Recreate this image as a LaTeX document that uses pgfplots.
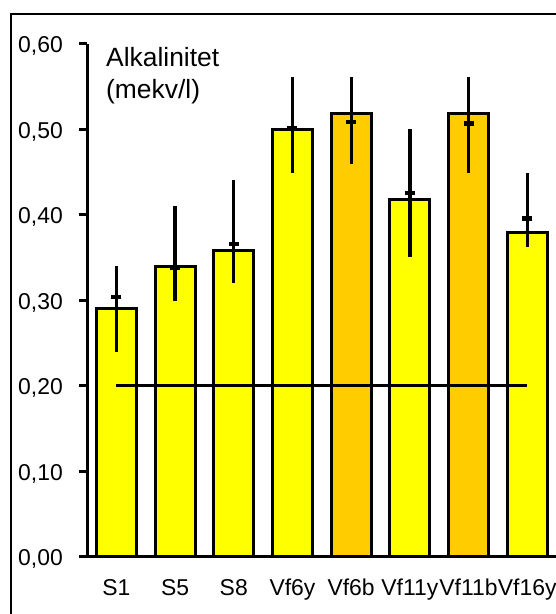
\documentclass[border=0pt]{standalone}
\usepackage{pgfplots}
\pgfplotsset{compat=1.18}
\usepackage{fontspec}
\setmainfont{Liberation Sans}
\definecolor{barY}{HTML}{FFFF00}
\definecolor{barO}{HTML}{FFCC00}
\begin{document}
\begin{tikzpicture}[x=1bp,y=1bp]
\useasboundingbox (0,0) rectangle (556,614);
\clip (0,0) rectangle (556,614);
\draw[line width=2bp] (11,-20) rectangle (600,600);
\begin{axis}[
  at={(87bp,57bp)}, anchor=south west,
  scale only axis, width=469.6bp, height=513bp,
  xmin=-0.5, xmax=7.5, ymin=0, ymax=0.6,
  axis x line=bottom, axis y line=left,
  axis line style={line width=3bp, -},
  xtick={0,1,2,3,4,5,6,7},
  xticklabels={S1,S5,S8,Vf6y,Vf6b,Vf11y,Vf11b,Vf16y},
  x tick style={draw=none},
  ytick={0,0.1,0.2,0.3,0.4,0.5,0.6},
  y tick style={line width=3bp, black},
  tick align=outside, major tick length=8bp,
  /pgf/number format/.cd, fixed, fixed zerofill, precision=2, use comma, assume math mode=true,
  /pgfplots/.cd,
  tick label style={font=\fontsize{23}{27}\selectfont},
  xticklabel style={anchor=base, inner sep=0pt, yshift=-30bp},
  yticklabel style={anchor=east, inner sep=0pt, xshift=-16bp, yshift=-2bp},
  clip=false,
]
\addplot[ybar, bar shift=0pt, bar width=40bp, fill=barY, draw=black, line width=3bp]
  coordinates {(0,0.291) (1,0.340) (2,0.359) (3,0.500) (5,0.418) (7,0.380)};
\addplot[ybar, bar shift=0pt, bar width=40bp, fill=barO, draw=black, line width=3bp]
  coordinates {(4,0.519) (6,0.519)};
\addplot[black, line width=3bp] coordinates {(0,0.2) (7,0.2)};
\addplot[black, only marks, mark=-, mark size=5bp, mark options={line width=4.5bp},
  error bars/.cd, y dir=both, y explicit, error mark=none,
  error bar style={line width=3.3bp, black}]
  table[x=x, y=m, y error plus expr=\thisrow{hi}-\thisrow{m}, y error minus expr=\thisrow{m}-\thisrow{lo}] {
x m hi lo
0 0.304 0.340 0.240
1 0.338 0.411 0.299
2 0.366 0.441 0.321
3 0.502 0.561 0.449
4 0.509 0.561 0.460
5 0.426 0.500 0.351
6 0.507 0.561 0.449
7 0.396 0.449 0.363
};
\end{axis}
\node[anchor=base west, inner sep=0, font=\fontsize{26.5}{30}\selectfont] at (106,547.3) {Alkalinitet};
\node[anchor=base west, inner sep=0, font=\fontsize{26.5}{30}\selectfont] at (106,515.7) {(mekv/l)};
\end{tikzpicture}
\end{document}
